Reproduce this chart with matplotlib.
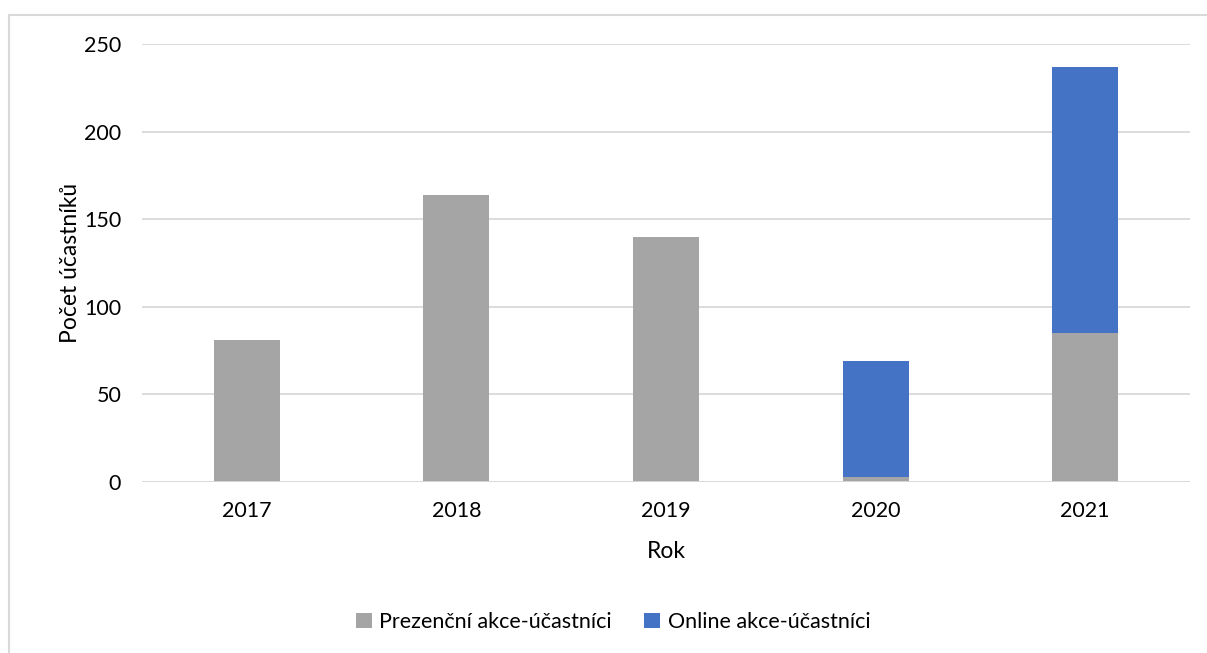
import matplotlib.pyplot as plt
from matplotlib.lines import Line2D

# ==================== DATA ====================
years = ["2017", "2018", "2019", "2020", "2021"]
prezencni = [81, 164, 140, 3, 85]
online = [0, 0, 0, 66, 152]
yticks = [0, 50, 100, 150, 200, 250]

GRAY = "#A5A5A5"
BLUE = "#4472C4"
GRID = "#D9D9D9"

plt.rcParams['font.family'] = ['Lato', 'DejaVu Sans']

fig = plt.figure(figsize=(12.07, 6.53), dpi=100)
ax = fig.add_axes([142 / 1207, 1 - 482 / 653, (1190 - 142) / 1207, (482 - 44) / 653])

x = range(len(years))
ax.bar(x, prezencni, width=0.315, color=GRAY, label="Prezenční akce-účastníci", zorder=3)
ax.bar(x, online, width=0.315, bottom=prezencni, color=BLUE, label="Online akce-účastníci", zorder=3)

ax.set_xlim(-0.5, len(years) - 0.5)
ax.set_ylim(0, 250)
ax.set_yticks(yticks)
ax.set_xticks(list(x))
ax.set_xticklabels(years)
ax.tick_params(axis='both', length=0, labelsize=15.5, colors="#000000")
ax.tick_params(axis='y', pad=15)
ax.tick_params(axis='x', pad=14)
ax.grid(axis='y', color=GRID, linewidth=1.3, zorder=0)
for s in ax.spines.values():
    s.set_visible(False)
ax.axhline(0, color=GRID, linewidth=1.3, zorder=4)

ax.set_xlabel("Rok", fontsize=16.5, labelpad=14)
ax.set_ylabel("Počet účastníků", fontsize=16.5, labelpad=2)

ax.legend(loc='center', bbox_to_anchor=(0.508, 1 - 622 / 653), bbox_transform=fig.transFigure,
          ncol=2, frameon=False, fontsize=15.5, handlelength=0.75, handleheight=0.75,
          handletextpad=0.35, columnspacing=1.5)

# chart border (only top and left visible in the crop)
fig.add_artist(Line2D([8.5 / 1207, 8.5 / 1207], [0, 1 - 14.5 / 653], transform=fig.transFigure,
                      color="#D9D9D9", linewidth=1.5))
fig.add_artist(Line2D([8.5 / 1207, 1], [1 - 14.5 / 653, 1 - 14.5 / 653], transform=fig.transFigure,
                      color="#D9D9D9", linewidth=1.5))

fig.savefig("out.png", dpi=100)
